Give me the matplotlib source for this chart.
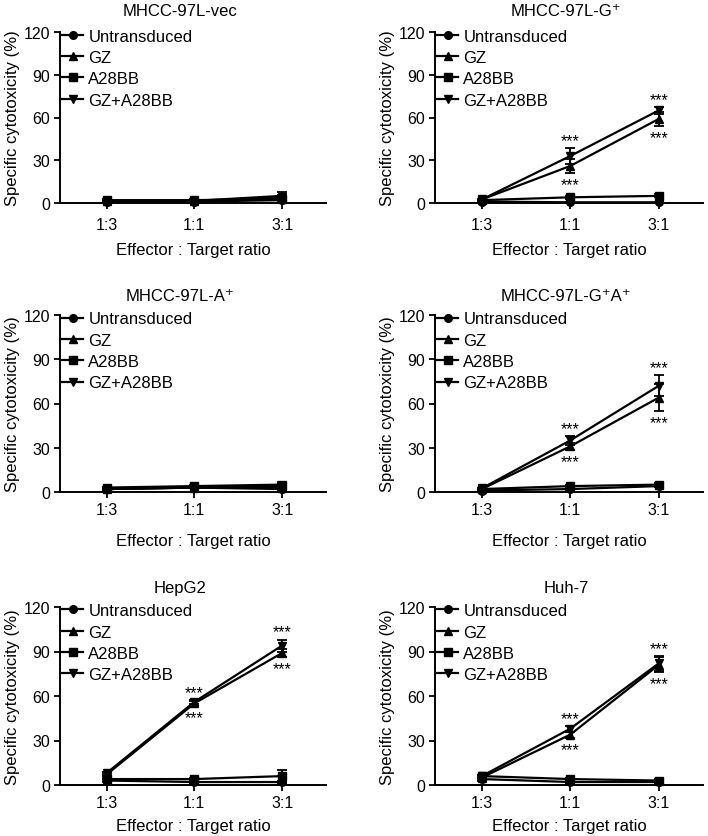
import matplotlib
matplotlib.use("Agg")
import matplotlib.pyplot as plt
from matplotlib.lines import Line2D
import numpy as np

plt.rcParams['font.family'] = ['Liberation Sans', 'DejaVu Sans']

ratios = ['1:3', '1:1', '3:1']
series = ['Untransduced', 'GZ', 'A28BB', 'GZ+A28BB']
markers = ['o', '^', 's', 'v']
titles = ['MHCC-97L-vec', 'MHCC-97L-G\u207a', 'MHCC-97L-A\u207a',
          'MHCC-97L-G\u207aA\u207a', 'HepG2', 'Huh-7']
yticks = [0, 30, 60, 90, 120]

# mean values per series (Untransduced, GZ, A28BB, GZ+A28BB) at 1:3, 1:1, 3:1
vec_mean = [[1.0, 1.0, 2.0], [1.5, 1.5, 5.0], [2.0, 2.0, 3.0], [1.0, 1.0, 4.0]]
vec_err = [[0.5, 0.5, 0.5], [0.5, 0.5, 2.5], [0.5, 0.5, 1.0], [0.5, 0.5, 1.5]]
g_mean = [[1.0, 0.5, 0.5], [2.5, 26.0, 59.0], [2.0, 4.0, 5.0], [2.5, 33.0, 65.0]]
g_err = [[0.5, 0.5, 0.5], [0.5, 5.0, 5.0], [0.5, 1.0, 1.0], [0.5, 5.5, 2.5]]
a_mean = [[2.0, 3.0, 2.0], [2.0, 3.0, 3.0], [3.0, 4.0, 5.0], [2.0, 3.0, 4.0]]
a_err = [[0.5, 0.5, 0.5], [0.5, 0.5, 1.0], [0.5, 1.0, 1.5], [0.5, 0.5, 2.0]]
ga_mean = [[1.0, 2.0, 4.0], [2.0, 31.0, 64.0], [2.0, 4.0, 5.0], [2.5, 35.0, 72.0]]
ga_err = [[0.5, 0.5, 0.5], [0.5, 2.5, 9.0], [0.5, 1.0, 1.0], [0.5, 3.0, 7.0]]
hep_mean = [[3.0, 2.0, 2.0], [7.0, 55.0, 89.0], [4.0, 4.0, 6.0], [8.0, 56.0, 94.0]]
hep_err = [[1.0, 0.5, 0.5], [1.0, 1.5, 3.0], [1.0, 1.0, 4.0], [1.0, 1.5, 4.0]]
huh_mean = [[4.0, 2.0, 2.0], [5.0, 34.0, 81.0], [6.0, 4.0, 3.0], [6.0, 38.0, 82.0]]
huh_err = [[1.0, 0.5, 0.5], [1.0, 2.0, 5.0], [1.0, 1.0, 1.0], [1.0, 2.0, 5.0]]

all_means = [vec_mean, g_mean, a_mean, ga_mean, hep_mean, huh_mean]
all_errs = [vec_err, g_err, a_err, ga_err, hep_err, huh_err]
# ratio indices that carry *** for GZ and GZ+A28BB in each panel
star_idx = [[], [1, 2], [], [1, 2], [1, 2], [1, 2]]

W, H = 708, 837
fig = plt.figure(figsize=(W / 100, H / 100), dpi=100)

col_left = [60, 435]
col_w = [266, 268]
row_top = [33, 316, 608]
row_h = [171, 177, 178]
row_tickpad = [6, 3, 3]
row_labelpad = [7, 12, 6]
row_titlepad = [12.5, 11, 11]
title_x = [0.45, 0.49]

handles = [Line2D([], [], color='black', lw=1.6, marker=m, ms=5.5) for m in markers]

for i in range(6):
    r, c = divmod(i, 2)
    l, t, w, h = col_left[c], row_top[r], col_w[c], row_h[r]
    ax = fig.add_axes([l / W, 1 - (t + h) / H, w / W, h / H])
    x = np.arange(len(ratios))
    means = all_means[i]
    errs = all_errs[i]
    for s in range(4):
        ax.errorbar(x, means[s], yerr=errs[s], color='black', lw=1.6,
                    marker=markers[s], ms=5.5, capsize=3.5, capthick=1.3,
                    elinewidth=1.3, clip_on=False, zorder=3)
    for k in star_idx[i]:
        hi = max(means[1][k] + errs[1][k], means[3][k] + errs[3][k])
        lo = min(means[1][k] - errs[1][k], means[3][k] - errs[3][k])
        ax.annotate('***', xy=(k, hi), xytext=(0, 0), textcoords='offset points',
                    ha='center', va='bottom', fontsize=11.5)
        ax.annotate('***', xy=(k, lo), xytext=(0, -3), textcoords='offset points',
                    ha='center', va='top', fontsize=11.5)
    ax.set_xlim(-0.53, 2.5)
    ax.set_ylim(0, 120)
    ax.set_yticks(yticks)
    ax.set_xticks(x)
    ax.set_xticklabels(ratios)
    ax.tick_params(labelsize=11.5, width=1.3, length=4, direction='out', pad=3)
    ax.tick_params(axis='x', pad=row_tickpad[r])
    for sp in ['top', 'right']:
        ax.spines[sp].set_visible(False)
    for sp in ['left', 'bottom']:
        ax.spines[sp].set_linewidth(1.4)
    ax.set_ylabel('Specific cytotoxicity (%)', fontsize=12, labelpad=3)
    ax.set_xlabel('Effector : Target ratio', fontsize=12, labelpad=row_labelpad[r])
    ax.set_title(titles[i], fontsize=12, pad=row_titlepad[r], x=title_x[c])
    ax.legend(handles, series, loc='upper left', bbox_to_anchor=(0.0, 1.03),
              frameon=False, fontsize=12, handlelength=1.3, handletextpad=0.3,
              labelspacing=0.38, borderaxespad=0.1, borderpad=0.0)

fig.savefig('out.png', dpi=100)
